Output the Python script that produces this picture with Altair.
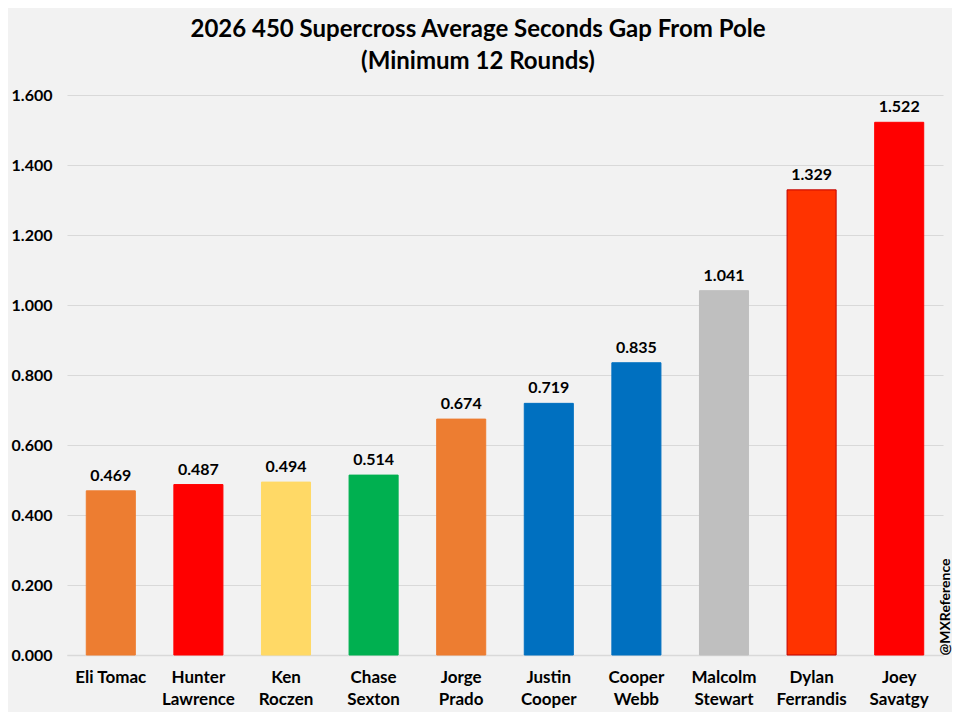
import altair as alt
import pandas as pd

riders = ["Eli Tomac", "Hunter Lawrence", "Ken Roczen", "Chase Sexton", "Jorge Prado",
          "Justin Cooper", "Cooper Webb", "Malcolm Stewart", "Dylan Ferrandis", "Joey Savatgy"]
gaps = [0.469, 0.487, 0.494, 0.514, 0.674, 0.719, 0.835, 1.041, 1.329, 1.522]
colors = ["#ED7D31", "#FF0000", "#FFD966", "#00B050", "#ED7D31",
          "#0070C0", "#0070C0", "#BFBFBF", "#FF3300", "#FF0000"]
strokes = ["#ED7D31", "#FF0000", "#FFD966", "#00B050", "#ED7D31",
           "#0070C0", "#0070C0", "#BFBFBF", "#C00000", "#FF0000"]

df = pd.DataFrame({"rider": riders, "gap": gaps, "color": colors, "stroke": strokes})

FONT = "Lato"

x = alt.X("rider:N", sort=riders, title=None,
          scale=alt.Scale(paddingInner=0.44, paddingOuter=0.22),
          axis=alt.Axis(labelAngle=0, labelFont=FONT, labelFontSize=17, labelFontWeight="bold",
                        labelColor="#000000", labelPadding=14, labelLineHeight=22,
                        labelExpr="datum.label == 'Eli Tomac' ? datum.label : split(datum.label, ' ')",
                        ticks=False, domainColor="#D9D9D9", domainWidth=1.5, grid=False))
y = alt.Y("gap:Q", title=None,
          scale=alt.Scale(domain=[0, 1.6], nice=False),
          axis=alt.Axis(values=[0, 0.2, 0.4, 0.6, 0.8, 1.0, 1.2, 1.4, 1.6], format=".3f",
                        labelFont=FONT, labelFontSize=16, labelFontWeight="bold", labelColor="#000000",
                        labelPadding=15, ticks=False, domain=False, gridColor="#D9D9D9", gridWidth=1))

bars = alt.Chart(df).mark_bar(strokeWidth=1).encode(
    x=x, y=y,
    color=alt.Color("color:N", scale=None),
    stroke=alt.Stroke("stroke:N", scale=None),
)

labels = alt.Chart(df).mark_text(font=FONT, fontSize=16, fontWeight="bold", color="#000000",
                                  baseline="bottom", dy=-7).encode(
    x=alt.X("rider:N", sort=riders),
    y="gap:Q",
    text=alt.Text("gap:Q", format=".3f"),
)

mark = alt.Chart(pd.DataFrame({"t": ["@MXReference"]})).mark_text(
    font=FONT, fontSize=14, fontWeight="bold", color="#000000", angle=270
).encode(x=alt.value(879), y=alt.value(512), text="t:N")

chart = alt.layer(bars, labels, mark).properties(
    width=876, height=560,
    autosize=alt.AutoSizeParams(type="none"),
    padding={"left": 59, "top": 87, "right": 9, "bottom": 57},
    background="#F2F2F2",
    title=alt.TitleParams(
        text=["2026 450 Supercross Average Seconds Gap From Pole", "(Minimum 12 Rounds)"],
        font=FONT, fontSize=24, fontWeight="bold", color="#000000",
        anchor="middle", dx=-27, offset=13, lineHeight=32,
    ),
).configure_view(stroke=None)

chart.save("out.html", embed_options={"renderer": "svg", "actions": False})
